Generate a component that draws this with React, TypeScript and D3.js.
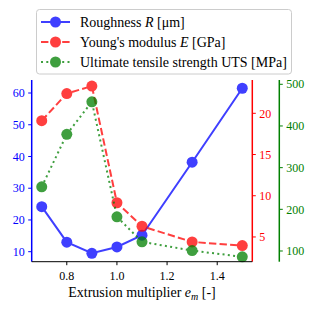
import React from "react";
import * as d3 from "d3";

// extrusion multiplier values
const multipliers = [0.7, 0.8, 0.9, 1.0, 1.1, 1.3, 1.5];
const roughness = [24.2, 13.0, 9.5, 11.5, 15.2, 38.2, 61.5];
const modulus = [19.1, 22.4, 23.3, 9.15, 6.3, 4.4, 3.95];
const uts = [254, 380, 458, 182, 122, 101, 86];

const xTicks = [0.8, 1.0, 1.2, 1.4];
const rTicks = [10, 20, 30, 40, 50, 60];
const eTicks = [5, 10, 15, 20];
const uTicks = [100, 200, 300, 400, 500];

const legendLabels = ["Roughness ", "Young's modulus ", "Ultimate tensile strength UTS [MPa]"];

const W = 316, H = 311;
const left = 31.7, right = 252.3, top = 80, bottom = 261.7;
const greenX = 279.3;
const FONT = '"Liberation Serif", "Times New Roman", "DejaVu Serif", serif';

const BLUE = "#0000ff", RED = "#ff0000", GREEN = "#008000";

export default function App() {
  const x = d3.scaleLinear().domain([0.66, 1.54]).range([left, right]);
  const yR = d3.scaleLinear().domain([6.85, 64.1]).range([bottom, top]);
  const yE = d3.scaleLinear().domain([2.0, 24.04]).range([bottom, top]);
  const yU = d3.scaleLinear().domain([74.3, 510.3]).range([bottom, top]);

  const series = [
    { vals: roughness, y: yR, color: BLUE, dash: null },
    { vals: modulus, y: yE, color: RED, dash: "7.4,3.2" },
    { vals: uts, y: yU, color: GREEN, dash: "2,3.3" },
  ];

  const mk = (y: d3.ScaleLinear<number, number>) =>
    d3.line<number>().x((_, i) => x(multipliers[i])).y((v) => y(v));

  return (
    <svg width={W} height={H} style={{ position: "absolute", left: 0, top: 0, fontFamily: FONT }}>
      <rect width={W} height={H} fill="#fff" />
      {series.map((s, k) => (
        <g key={k} opacity={0.75}>
          <path d={mk(s.y)(s.vals) || ""} fill="none" stroke={s.color} strokeWidth={2}
            strokeDasharray={s.dash || undefined} />
          {s.vals.map((v, i) => (
            <circle key={i} cx={x(multipliers[i])} cy={s.y(v)} r={5.5} fill={s.color} />
          ))}
        </g>
      ))}

      {/* left axis */}
      <line x1={left} x2={left} y1={top} y2={bottom} stroke={BLUE} strokeWidth={1.5} />
      {rTicks.map((t) => (
        <g key={t} transform={`translate(${left},${yR(t)})`}>
          <line x1={-3.5} x2={0} stroke={BLUE} />
          <text x={-7} dy="0.35em" textAnchor="end" fontSize={12} fill={BLUE}>{t}</text>
        </g>
      ))}

      {/* red right axis */}
      <line x1={right} x2={right} y1={top} y2={bottom} stroke={RED} strokeWidth={1.5} />
      {eTicks.map((t) => (
        <g key={t} transform={`translate(${right},${yE(t)})`}>
          <line x1={0} x2={3.5} stroke={RED} />
          <text x={7} dy="0.35em" fontSize={12} fill={RED}>{t}</text>
        </g>
      ))}

      {/* green outer axis */}
      <line x1={greenX} x2={greenX} y1={top} y2={bottom} stroke={GREEN} strokeWidth={1.5} />
      {uTicks.map((t) => (
        <g key={t} transform={`translate(${greenX},${yU(t)})`}>
          <line x1={0} x2={3.5} stroke={GREEN} />
          <text x={7} dy="0.35em" fontSize={12} fill={GREEN}>{t}</text>
        </g>
      ))}

      {/* bottom axis */}
      <line x1={left} x2={right} y1={bottom} y2={bottom} stroke="#000" strokeWidth={1} />
      {xTicks.map((t) => (
        <g key={t} transform={`translate(${x(t)},${bottom})`}>
          <line y1={0} y2={3.5} stroke="#000" />
          <text y={18} textAnchor="middle" fontSize={12}>{t.toFixed(1)}</text>
        </g>
      ))}
      <text x={(left + right) / 2} y={297} textAnchor="middle" fontSize={14}>
        Extrusion multiplier <tspan fontStyle="italic">e</tspan>
        <tspan fontStyle="italic" fontSize={10} dy={3}>m</tspan>
        <tspan dy={-3}> [-]</tspan>
      </text>

      {/* legend */}
      <rect x={36.5} y={9.5} width={255} height={64.5} rx={3} fill="#fff" fillOpacity={0.85} stroke="#ccc" />
      {series.map((s, k) => {
        const ly = 22 + k * 20;
        return (
          <g key={k}>
            <g opacity={0.75}>
              <line x1={41} x2={70} y1={ly} y2={ly} stroke={s.color} strokeWidth={2}
                strokeDasharray={s.dash || undefined} />
              <circle cx={55.5} cy={ly} r={5.5} fill={s.color} />
            </g>
            <text x={80} y={ly} dy="0.35em" fontSize={14}>
              {legendLabels[k]}
              {k === 0 && (<><tspan fontStyle="italic">R</tspan> [μm]</>)}
              {k === 1 && (<><tspan fontStyle="italic">E</tspan> [GPa]</>)}
            </text>
          </g>
        );
      })}
    </svg>
  );
}
